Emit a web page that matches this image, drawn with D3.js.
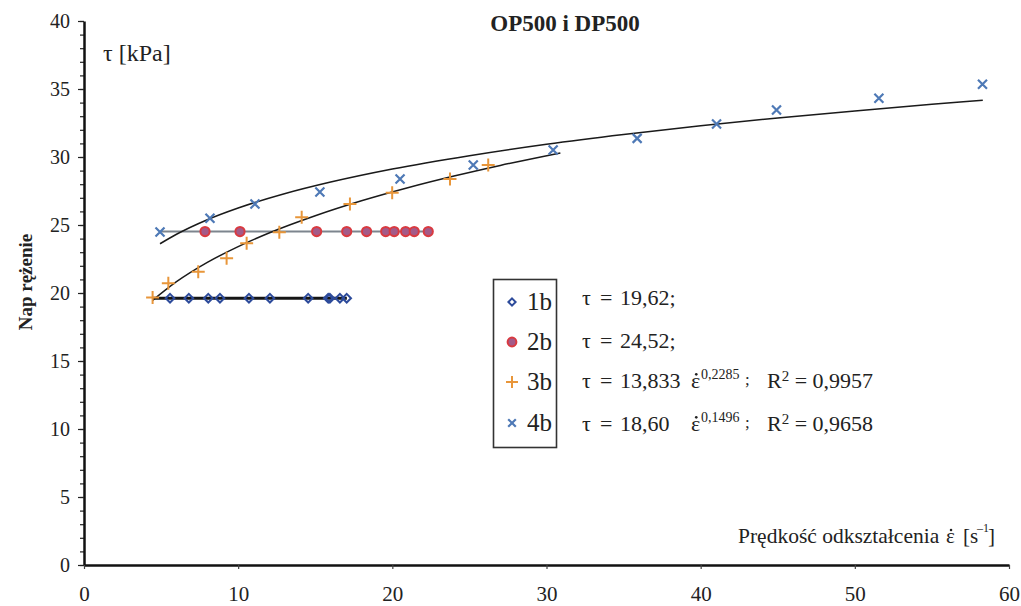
<!DOCTYPE html>
<html>
<head>
<meta charset="utf-8">
<script src="https://cdn.jsdelivr.net/npm/d3@7"></script>
<style>
  body { margin: 0; background: #fff; }
  svg text { font-family: "Liberation Serif", "Times New Roman", serif; fill: #222; }
</style>
</head>
<body>
<svg id="chart" width="1021" height="606"></svg>
<script>
// data
const s1bX = [5.58, 6.80, 8.06, 8.82, 10.70, 12.06, 14.54, 15.84, 15.95, 16.60, 17.04];
const s1bY = 19.62;
const s2bX = [7.85, 10.12, 15.09, 17.04, 18.33, 19.57, 20.12, 20.86, 21.42, 22.33];
const s2bY = 24.52;
const s3bX = [4.45, 5.47, 7.41, 9.25, 10.55, 12.67, 14.12, 17.25, 19.99, 23.74, 26.22];
const s3bY = [19.66, 20.71, 21.57, 22.55, 23.65, 24.46, 25.57, 26.54, 27.38, 28.38, 29.41];
const s4bX = [4.93, 8.17, 11.09, 15.30, 20.50, 25.25, 30.43, 35.88, 41.03, 44.92, 51.56, 58.28];
const s4bY = [24.49, 25.50, 26.54, 27.43, 28.38, 29.41, 30.51, 31.37, 32.43, 33.46, 34.32, 35.35];

// trend lines (as drawn)
const trend1bX = [4.45, 17.05];
const trend2bX = [4.93, 22.6];
const trend3bX = [4.45, 6, 8, 10, 12, 15, 18, 21, 24, 27, 30.9];
const trend3bY = [19.46, 20.83, 22.25, 23.41, 24.41, 25.68, 26.78, 27.74, 28.60, 29.38, 30.30];
const trend4bX = [4.93, 6, 8, 10, 13, 16, 20, 25, 30, 35, 40, 45, 50, 55, 58.3];
const trend4bY = [23.62, 24.32, 25.39, 26.25, 27.30, 28.16, 29.12, 30.10, 30.94, 31.66, 32.30, 32.87, 33.39, 33.87, 34.18];

const xTicks = [0, 10, 20, 30, 40, 50, 60];
const yTicks = [0, 5, 10, 15, 20, 25, 30, 35, 40];
const yMinor = d3.range(0, 41, 1);

const legendNames = ['1b', '2b', '3b', '4b'];

const svg = d3.select('#chart');
const x = d3.scaleLinear().domain([0, 60]).range([84, 1009]);
const y = d3.scaleLinear().domain([0, 40]).range([565, 21]);

const colDiamond = '#2d4b9b', colCircleFill = '#a45a88', colCircleStroke = '#d93a40';
const colPlus = '#e8963a', colCross = '#4e79b6';

// axes
const yMinorAxis = svg.append('g')
    .attr('transform', 'translate(84,0)')
    .call(d3.axisLeft(y).tickValues(yMinor).tickSize(4).tickFormat('').tickSizeOuter(0));
yMinorAxis.select('.domain').remove();
yMinorAxis.selectAll('line').attr('stroke', '#222').attr('stroke-width', 1.2);

const yAxis = svg.append('g')
    .attr('transform', 'translate(84,0)')
    .call(d3.axisLeft(y).tickValues(yTicks).tickSize(6).tickPadding(8).tickSizeOuter(0));
yAxis.select('.domain').attr('stroke', '#111').attr('stroke-width', 2.5);
yAxis.selectAll('line').attr('stroke', '#222').attr('stroke-width', 1.2);
yAxis.selectAll('text').style('font-size', '20px').attr('fill', '#222')
    .style('font-family', '"Liberation Serif", serif');

const xAxis = svg.append('g')
    .attr('transform', 'translate(0,565)')
    .call(d3.axisBottom(x).tickValues(xTicks).tickSize(4).tickPadding(17).tickSizeOuter(0));
xAxis.select('.domain').attr('stroke', '#111').attr('stroke-width', 2.5);
xAxis.selectAll('line').attr('stroke', '#444').attr('stroke-width', 1.2);
xAxis.selectAll('text').style('font-size', '21px').attr('fill', '#222')
    .style('font-family', '"Liberation Serif", serif');

// trend lines
const line = d3.line().x(d => x(d[0])).y(d => y(d[1])).curve(d3.curveMonotoneX);

svg.append('path')
    .attr('d', line(trend2bX.map(v => [v, s2bY])))
    .attr('fill', 'none').attr('stroke', '#7d858e').attr('stroke-width', 2);
svg.append('path')
    .attr('d', line(trend1bX.map(v => [v, s1bY])))
    .attr('fill', 'none').attr('stroke', '#151515').attr('stroke-width', 3);
svg.append('path')
    .attr('d', line(trend3bX.map((v, i) => [v, trend3bY[i]])))
    .attr('fill', 'none').attr('stroke', '#1a1a1a').attr('stroke-width', 1.5);
svg.append('path')
    .attr('d', line(trend4bX.map((v, i) => [v, trend4bY[i]])))
    .attr('fill', 'none').attr('stroke', '#1a1a1a').attr('stroke-width', 1.5);

// marker drawers
function diamond(g, cx, cy, r) {
    g.append('path')
        .attr('d', `M${cx},${cy - r}L${cx + r},${cy}L${cx},${cy + r}L${cx - r},${cy}Z`)
        .attr('fill', 'none').attr('stroke', colDiamond).attr('stroke-width', 2);
}
function circle(g, cx, cy, r) {
    g.append('circle').attr('cx', cx).attr('cy', cy).attr('r', r)
        .attr('fill', colCircleFill).attr('stroke', colCircleStroke).attr('stroke-width', 2);
}
function plus(g, cx, cy, r) {
    g.append('path')
        .attr('d', `M${cx - r},${cy}H${cx + r}M${cx},${cy - r}V${cy + r}`)
        .attr('stroke', colPlus).attr('stroke-width', 2);
}
function cross(g, cx, cy, r) {
    g.append('path')
        .attr('d', `M${cx - r},${cy - r}L${cx + r},${cy + r}M${cx - r},${cy + r}L${cx + r},${cy - r}`)
        .attr('stroke', colCross).attr('stroke-width', 2.2);
}

const marks = svg.append('g');
s2bX.forEach(v => circle(marks, x(v), y(s2bY), 4.6));
s1bX.forEach(v => diamond(marks, x(v), y(s1bY), 4.3));
s3bX.forEach((v, i) => plus(marks, x(v), y(s3bY[i]), 6.5));
s4bX.forEach((v, i) => cross(marks, x(v), y(s4bY[i]), 4.5));

// epsilon with a dot above
function epsDot(xx, yy, size) {
    svg.append('text').attr('x', xx).attr('y', yy).style('font-size', size + 'px').text('ε');
    svg.append('circle').attr('cx', xx + size * 0.24).attr('cy', yy - size * 0.62)
        .attr('r', size * 0.06).attr('fill', '#222');
}

// title and axis labels
svg.append('text').attr('x', 565).attr('y', 31).attr('text-anchor', 'middle')
    .style('font-size', '23px').style('font-weight', 'bold').text('OP500 i DP500');

svg.append('text').attr('transform', 'translate(32,282) rotate(-90)')
    .attr('text-anchor', 'middle')
    .style('font-size', '19px').style('font-weight', 'bold').text('Nap rężenie');

svg.append('text').attr('x', 103).attr('y', 61).style('font-size', '24px').text('τ [kPa]');

svg.append('text').attr('x', 738).attr('y', 543).style('font-size', '21.5px').text('Prędkość odkształcenia');
epsDot(946, 543, 21);
svg.append('text').attr('x', 963).attr('y', 543).style('font-size', '21px').text('[s');
svg.append('text').attr('x', 977).attr('y', 532).style('font-size', '12px').text('–1');
svg.append('text').attr('x', 988).attr('y', 543).style('font-size', '21px').text(']');

// legend
svg.append('rect').attr('x', 493.5).attr('y', 279.5).attr('width', 63).attr('height', 168)
    .attr('fill', '#fff').attr('stroke', '#333').attr('stroke-width', 1.6);

const legendY = [302, 342, 382, 423];
const drawers = [
    (g, cx, cy) => diamond(g, cx, cy, 3.6),
    (g, cx, cy) => circle(g, cx, cy, 4.4),
    (g, cx, cy) => plus(g, cx, cy, 6),
    (g, cx, cy) => cross(g, cx, cy, 3.8)
];
legendNames.forEach((name, i) => {
    drawers[i](svg, 512, legendY[i]);
    svg.append('text').attr('x', 527).attr('y', legendY[i] + 8)
        .style('font-size', '25px').text(name);
});

// equations
const eqFont = '22px';
function tauEq(yy, coef) {
    svg.append('text').attr('x', 582).attr('y', yy).style('font-size', eqFont).text('τ');
    svg.append('text').attr('x', 600).attr('y', yy).style('font-size', eqFont).text('=');
    svg.append('text').attr('x', 620).attr('y', yy).style('font-size', eqFont).text(coef);
}
tauEq(305, '19,62;');
tauEq(348, '24,52;');

function eqRow(yy, coef, expo, r2) {
    tauEq(yy, coef);
    epsDot(691, yy, 22);
    svg.append('text').attr('x', 701).attr('y', yy - 9).style('font-size', '14px').text(expo);
    svg.append('text').attr('x', 745).attr('y', yy - 3).style('font-size', '17px').text(';');
    const t = svg.append('text').attr('x', 767).attr('y', yy).style('font-size', eqFont);
    t.append('tspan').text('R');
    t.append('tspan').attr('dy', -7).style('font-size', '15px').text('2');
    t.append('tspan').attr('dy', 7).text(' = ' + r2);
}
eqRow(388, '13,833', '0,2285', '0,9957');
eqRow(431, '18,60', '0,1496', '0,9658');
</script>
</body>
</html>
